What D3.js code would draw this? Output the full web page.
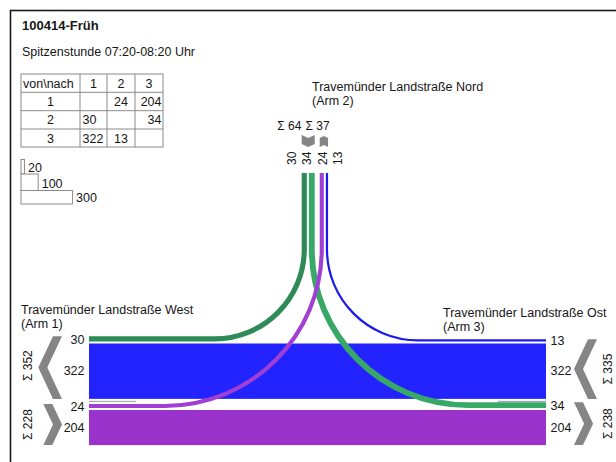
<!DOCTYPE html>
<html><head><meta charset="utf-8">
<script src="https://cdn.jsdelivr.net/npm/d3@7"></script>
<style>
body{margin:0;background:#fff}
svg{display:block}
text{font-family:"Liberation Sans",Arial,sans-serif;fill:#161616}
</style>
</head><body><svg id="c" width="616" height="462"></svg>
<script>
// ---------------- data ----------------
const title = "100414-Früh";
const subtitle = "Spitzenstunde 07:20-08:20 Uhr";
const armNames = ["Travemünder Landstraße West", "Travemünder Landstraße Nord", "Travemünder Landstraße Ost"];
const armLabels = ["(Arm 1)", "(Arm 2)", "(Arm 3)"];
const armIds = [1, 2, 3];
const tableHeader = ["von\\nach", "1", "2", "3"];
// rows = from arm, columns = to arm
const odMatrix = [
  [null, 24, 204],
  [30, null, 34],
  [322, 13, null]
];
const legendValues = [20, 100, 300];

// ---------------- styles / layout ----------------
const flowColor = {"1-2": "#a03fd3", "1-3": "#9933cc", "2-1": "#2e8b57", "2-3": "#38a868", "3-1": "#2323ff", "3-2": "#1a1aee"};
const grey = "#858585";
const K = 0.172;
const w = d3.scaleLinear().domain([0, 300]).range([0, 300 * K]);
const val = (f, t) => odMatrix[f - 1][t - 1];
const GAP = 2, GROUP_GAP = 5, KAPPA = 0.5523;
const xL = 89, xR = 546;
const yA = 343.5;          // top of main band 3->1
const yCurve = 249, yTop = 173;
const x21 = 301.7;

const svg = d3.select("#c");

// frame
svg.append("rect").attr("x", 10.5).attr("y", 10.5).attr("width", 700).attr("height", 600)
  .attr("fill", "none").attr("stroke", "#1a1a1a").attr("stroke-width", 1.6);

// title
svg.append("text").attr("x", 22).attr("y", 30).attr("font-size", 13).attr("font-weight", "bold").text(title);
svg.append("text").attr("x", 22).attr("y", 56).attr("font-size", 12.5).text(subtitle);

// ---------------- table ----------------
const colX = [21, 80, 107, 135, 163];
const rowY = [74, 92.3, 110.7, 129, 147];
const tbl = svg.append("g");
tbl.append("rect").attr("x", colX[0]).attr("y", rowY[0]).attr("width", colX[4] - colX[0]).attr("height", rowY[4] - rowY[0])
  .attr("fill", "none").attr("stroke", "#8a8a8a");
colX.slice(1, 4).forEach(x => tbl.append("line").attr("x1", x).attr("x2", x).attr("y1", rowY[0]).attr("y2", rowY[4]).attr("stroke", "#8a8a8a"));
rowY.slice(1, 4).forEach(y => tbl.append("line").attr("x1", colX[0]).attr("x2", colX[4]).attr("y1", y).attr("y2", y).attr("stroke", "#8a8a8a"));
const tableRows = [tableHeader].concat(odMatrix.map((r, i) => [String(armIds[i])].concat(r.map(v => v == null ? "" : String(v)))));
tableRows.forEach((row, ri) => {
  row.forEach((cell, ci) => {
    if (!cell) return;
    let x, anchor;
    if (ri === 0 && ci === 0) { x = colX[0] + 2; anchor = "start"; }
    else if (ci === 1 && ri > 0) { x = colX[1] + 2.5; anchor = "start"; }
    else if (ci === 3 && ri > 0) { x = colX[4] - 1.5; anchor = "end"; }
    else { x = (colX[ci] + colX[ci + 1]) / 2; anchor = "middle"; }
    tbl.append("text").attr("x", x).attr("y", rowY[ri] + 13.5).attr("text-anchor", anchor)
      .attr("font-size", 12.5).text(cell);
  });
});

// ---------------- legend ----------------
const legY = [159.5, 174, 190.5];
const legH = [14.5, 16.5, 13.5];
legendValues.forEach((v, i) => {
  svg.append("rect").attr("x", 21).attr("y", legY[i]).attr("width", w(v)).attr("height", legH[i])
    .attr("fill", "#fff").attr("stroke", "#8a8a8a").attr("stroke-width", 1);
  svg.append("text").attr("x", 21 + w(v) + 3.5).attr("y", legY[i] + legH[i] - 2.5).attr("font-size", 12.5).text(v);
});

// ---------------- geometry of flows ----------------
const y31 = yA;
const y21 = yA - GAP - w(val(2, 1));
const y12 = yA + w(val(3, 1)) + GROUP_GAP;
const y13 = y12 + w(val(1, 2)) + GAP;
const y32 = yA - GAP - w(val(3, 2));
const y23 = y13 - GAP - w(val(2, 3));
const x23 = x21 + w(val(2, 1)) + GAP;
const x12 = x23 + w(val(2, 3)) + GROUP_GAP;
const x32 = x12 + w(val(1, 2)) + GAP;

// straight bands
svg.append("rect").attr("x", xL).attr("y", y31).attr("width", xR - xL).attr("height", w(val(3, 1))).attr("fill", flowColor["3-1"]);
svg.append("rect").attr("x", xL).attr("y", y13).attr("width", xR - xL).attr("height", w(val(1, 3))).attr("fill", flowColor["1-3"]);

// thin grey separators at the arm ends
const ySep = (yA + w(val(3, 1)) + y12) / 2;
svg.append("line").attr("x1", xL).attr("x2", xL + 47).attr("y1", ySep).attr("y2", ySep).attr("stroke", "#9a9a9a").attr("stroke-width", 1);
svg.append("line").attr("x1", xR - 48).attr("x2", xR).attr("y1", ySep).attr("y2", ySep).attr("stroke", "#9a9a9a").attr("stroke-width", 1);

function curvePath(edgeX, hy, vx) {
  const r = hy - yCurve;
  const dir = edgeX < vx ? -1 : 1;
  const hx = vx + dir * r;
  const p = d3.path();
  p.moveTo(edgeX, hy);
  p.lineTo(hx, hy);
  p.bezierCurveTo(hx + (vx - hx) * KAPPA, hy, vx, yCurve + r * KAPPA, vx, yCurve);
  p.lineTo(vx, yTop);
  return p.toString();
}
const curved = [
  {key: "2-1", edge: xL, y: y21, x: x21, v: val(2, 1)},
  {key: "3-2", edge: xR, y: y32, x: x32, v: val(3, 2)},
  {key: "2-3", edge: xR, y: y23, x: x23, v: val(2, 3)},
  {key: "1-2", edge: xL, y: y12, x: x12, v: val(1, 2)}
];
curved.forEach(c => {
  svg.append("path").attr("d", curvePath(c.edge, c.y + w(c.v) / 2, c.x + w(c.v) / 2))
    .attr("fill", "none").attr("stroke", flowColor[c.key]).attr("stroke-width", w(c.v));
});

// ---------------- chevrons ----------------
const T = 9, SLOPE = 0.47;
function hChevron(y0, y1, pointLeft, anchorX, anchorIsRight) {
  const m = (y0 + y1) / 2, d = SLOPE * (y1 - y0) / 2;
  const total = T + d;
  const L = anchorIsRight ? anchorX - total : anchorX;
  let pts;
  if (pointLeft) pts = [[L + total, y0], [L + d, y0], [L, m], [L + d, y1], [L + total, y1], [L + T, m]];
  else pts = [[L, y0], [L + T, y0], [L + total, m], [L + T, y1], [L, y1], [L + d, m]];
  svg.append("polygon").attr("points", pts.map(p => p.join(",")).join(" ")).attr("fill", grey);
}
function vChevron(x0, x1, pointDown, bottomY) {
  const m = (x0 + x1) / 2, d = SLOPE * (x1 - x0) / 2;
  let pts;
  if (pointDown) { const t = bottomY - T - d; pts = [[x0, t], [m, t + d], [x1, t], [x1, t + T], [m, t + T + d], [x0, t + T]]; }
  else { pts = [[x0, bottomY], [x0, bottomY - T], [m, bottomY - T - d], [x1, bottomY - T], [x1, bottomY], [m, bottomY - d]]; }
  svg.append("polygon").attr("points", pts.map(p => p.join(",")).join(" ")).attr("fill", grey);
}
const sumIn = a => odMatrix.reduce((s, r) => s + (r[a - 1] || 0), 0);
const sumOut = a => odMatrix[a - 1].reduce((s, v) => s + (v || 0), 0);

// arm 1 (left)
const a1In = [y21, yA + w(val(3, 1))], a1Out = [y12, y13 + w(val(1, 3))];
hChevron(a1In[0], a1In[1], true, 62, true);
hChevron(a1Out[0], a1Out[1], false, 62, true);
// arm 3 (right)
const a3Out = [y32, yA + w(val(3, 1))], a3In = [y23, y13 + w(val(1, 3))];
hChevron(a3Out[0], a3Out[1], true, 574, false);
hChevron(a3In[0], a3In[1], false, 574, false);
// arm 2 (top)
vChevron(x21, x23 + w(val(2, 3)), true, 147);
vChevron(x12, x32 + w(val(3, 2)), false, 147);

function sideSigma(x, yMid, s) {
  svg.append("text").attr("transform", `translate(${x},${yMid}) rotate(-90)`)
    .attr("text-anchor", "middle").attr("dominant-baseline", "central").attr("font-size", 12).text("Σ " + s);
}
sideSigma(28, (a1In[0] + a1In[1]) / 2 - 2, sumIn(1));
sideSigma(28, (a1Out[0] + a1Out[1]) / 2, sumOut(1));
sideSigma(607.5, (a3Out[0] + a3Out[1]) / 2, sumOut(3));
sideSigma(607.5, (a3In[0] + a3In[1]) / 2, sumIn(3));

// top sigma labels
const s37 = svg.append("text").attr("x", x32 + w(val(3, 2)) + 1.5).attr("y", 129.5).attr("text-anchor", "end").attr("font-size", 12).text("Σ " + sumIn(2));
const s37len = s37.node().getComputedTextLength();
svg.append("text").attr("x", x32 + w(val(3, 2)) + 1.5 - s37len - 4).attr("y", 129.5).attr("text-anchor", "end").attr("font-size", 12).text("Σ " + sumOut(2));

// top rotated strand values (spread evenly around the arm centre)
const topVals = [val(2, 1), val(2, 3), val(1, 2), val(3, 2)];
const armCx = (x21 + x32 + w(val(3, 2))) / 2;
topVals.forEach((v, i) => {
  const x = armCx + (i - 1.5) * 15.5;
  svg.append("text").attr("transform", `translate(${x},165) rotate(-90)`)
    .attr("dominant-baseline", "central").attr("font-size", 12).text(v);
});

// side values
const leftVals = [[val(2, 1), y21], [val(3, 1), y31], [val(1, 2), y12], [val(1, 3), y13]];
leftVals.forEach(([v, y]) => {
  svg.append("text").attr("x", 84.5).attr("y", y + w(v) / 2 + (v < 50 ? 1 : 0)).attr("text-anchor", "end")
    .attr("dominant-baseline", "central").attr("font-size", 12.5).text(v);
});
const rightVals = [[val(3, 2), y32], [val(3, 1), y31], [val(2, 3), y23], [val(1, 3), y13]];
rightVals.forEach(([v, y]) => {
  svg.append("text").attr("x", 550.5).attr("y", y + w(v) / 2 + (v < 50 ? 1 : 0)).attr("text-anchor", "start")
    .attr("dominant-baseline", "central").attr("font-size", 12.5).text(v);
});

// arm names
const armPos = [[21, 314], [312, 91], [443, 317]];
armNames.forEach((n, i) => {
  svg.append("text").attr("x", armPos[i][0]).attr("y", armPos[i][1]).attr("font-size", 12.5).text(n);
  svg.append("text").attr("x", armPos[i][0]).attr("y", armPos[i][1] + 14).attr("font-size", 12.5).text(armLabels[i]);
});
</script>
</body></html>
